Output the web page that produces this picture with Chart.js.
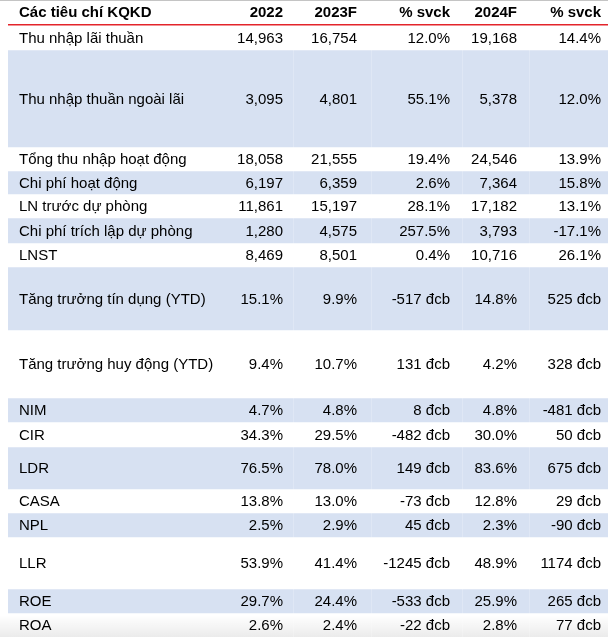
<!DOCTYPE html>
<html>
<head>
<meta charset="utf-8">
<script src="https://cdn.jsdelivr.net/npm/chart.js@4/dist/chart.umd.min.js"></script>
<style>
html,body{margin:0;padding:0;background:#fff}
#wrap{width:608px;height:637px}
</style>
</head>
<body>
<div id="wrap"><canvas id="tbl" width="608" height="637"></canvas></div>
<script>
// bảng KQKD - dữ liệu
const headers = ['Các tiêu chí KQKD', '2022', '2023F', '% svck', '2024F', '% svck'];
const rowLabels = [
  'Thu nhập lãi thuần', 'Thu nhập thuần ngoài lãi', 'Tổng thu nhập hoạt động', 'Chi phí hoạt động',
  'LN trước dự phòng', 'Chi phí trích lập dự phòng', 'LNST', 'Tăng trưởng tín dụng (YTD)',
  'Tăng trưởng huy động (YTD)', 'NIM', 'CIR', 'LDR', 'CASA', 'NPL', 'LLR', 'ROE', 'ROA'
];
const v2022 = ['14,963', '3,095', '18,058', '6,197', '11,861', '1,280', '8,469', '15.1%', '9.4%', '4.7%', '34.3%', '76.5%', '13.8%', '2.5%', '53.9%', '29.7%', '2.6%'];
const v2023F = ['16,754', '4,801', '21,555', '6,359', '15,197', '4,575', '8,501', '9.9%', '10.7%', '4.8%', '29.5%', '78.0%', '13.0%', '2.9%', '41.4%', '24.4%', '2.4%'];
const yoy2023 = ['12.0%', '55.1%', '19.4%', '2.6%', '28.1%', '257.5%', '0.4%', '-517 đcb', '131 đcb', '8 đcb', '-482 đcb', '149 đcb', '-73 đcb', '45 đcb', '-1245 đcb', '-533 đcb', '-22 đcb'];
const v2024F = ['19,168', '5,378', '24,546', '7,364', '17,182', '3,793', '10,716', '14.8%', '4.2%', '4.8%', '30.0%', '83.6%', '12.8%', '2.3%', '48.9%', '25.9%', '2.8%'];
const yoy2024 = ['14.4%', '12.0%', '13.9%', '15.8%', '13.1%', '-17.1%', '26.1%', '525 đcb', '328 đcb', '-481 đcb', '50 đcb', '675 đcb', '29 đcb', '-90 đcb', '1174 đcb', '265 đcb', '77 đcb'];

// layout (chiều cao hàng, mép phải cột)
const headerH = 25;
const rowH = [25, 97, 24, 23, 24, 25, 24, 63, 68, 24, 25, 42, 24, 24, 52, 24, 24];
const colRight = [283, 357, 450, 517, 601];
const colSep = [293, 371, 462, 529];
const BLUE = '#d7e1f2';
const FONT = '"Liberation Sans", Arial, sans-serif';

const total = headerH + rowH.reduce((a, b) => a + b, 0);
const columns = [v2022, v2023F, yoy2023, v2024F, yoy2024];

const datasets = [{ data: [headerH], backgroundColor: '#fff' }].concat(rowH.map((h, i) => ({
  data: [h],
  backgroundColor: i % 2 === 1 ? BLUE : '#fff'
})));

const tablePlugin = {
  id: 'tableText',
  afterDatasetsDraw(chart) {
    const c = chart.ctx;
    const y = chart.scales.y;
    const W = chart.width;
    c.save();
    // bóng mờ cuối ảnh
    const g = c.createLinearGradient(0, y.getPixelForValue(total - 22), 0, y.getPixelForValue(total));
    g.addColorStop(0, 'rgba(0,0,0,0)');
    g.addColorStop(1, 'rgba(0,0,0,0.08)');
    c.fillStyle = g;
    c.fillRect(0, y.getPixelForValue(total - 22), W, 22);
    // vạch cột mờ
    c.fillStyle = 'rgba(255,255,255,0.22)';
    colSep.forEach(x => c.fillRect(x, y.getPixelForValue(headerH - 1), 1, y.getPixelForValue(total) - y.getPixelForValue(headerH - 1)));
    // viền trên và vạch đỏ
    c.fillStyle = '#c4c4c4';
    c.fillRect(0, 0, W, 1);
    c.fillStyle = '#e3242b';
    c.fillRect(8, y.getPixelForValue(headerH) - 1, W - 8, 1.5);

    c.fillStyle = '#000';
    c.textBaseline = 'middle';
    c.font = 'bold 15px ' + FONT;
    const hy = y.getPixelForValue(headerH / 2);
    c.textAlign = 'left';
    c.fillText(headers[0], 19, hy);
    c.textAlign = 'right';
    headers.slice(1).forEach((t, j) => c.fillText(t, colRight[j], hy));

    c.font = '15px ' + FONT;
    let top = headerH;
    rowLabels.forEach((lab, i) => {
      const my = y.getPixelForValue(top + rowH[i] / 2) + 1;
      c.textAlign = 'left';
      c.fillText(lab, 19, my);
      c.textAlign = 'right';
      columns.forEach((col, j) => c.fillText(col[i], colRight[j], my));
      top += rowH[i];
    });
    c.restore();
  }
};

new Chart(document.getElementById('tbl'), {
  type: 'bar',
  data: { labels: ['KQKD'], datasets },
  options: {
    responsive: false,
    animation: false,
    layout: { padding: { left: 8, right: 0, top: 0, bottom: 0 } },
    datasets: { bar: { barPercentage: 1, categoryPercentage: 1, borderWidth: 0 } },
    plugins: { legend: { display: false }, tooltip: { enabled: false } },
    scales: {
      x: { stacked: true, display: false },
      y: { stacked: true, display: false, reverse: true, min: 0, max: total }
    }
  },
  plugins: [tablePlugin]
});
</script>
</body>
</html>
